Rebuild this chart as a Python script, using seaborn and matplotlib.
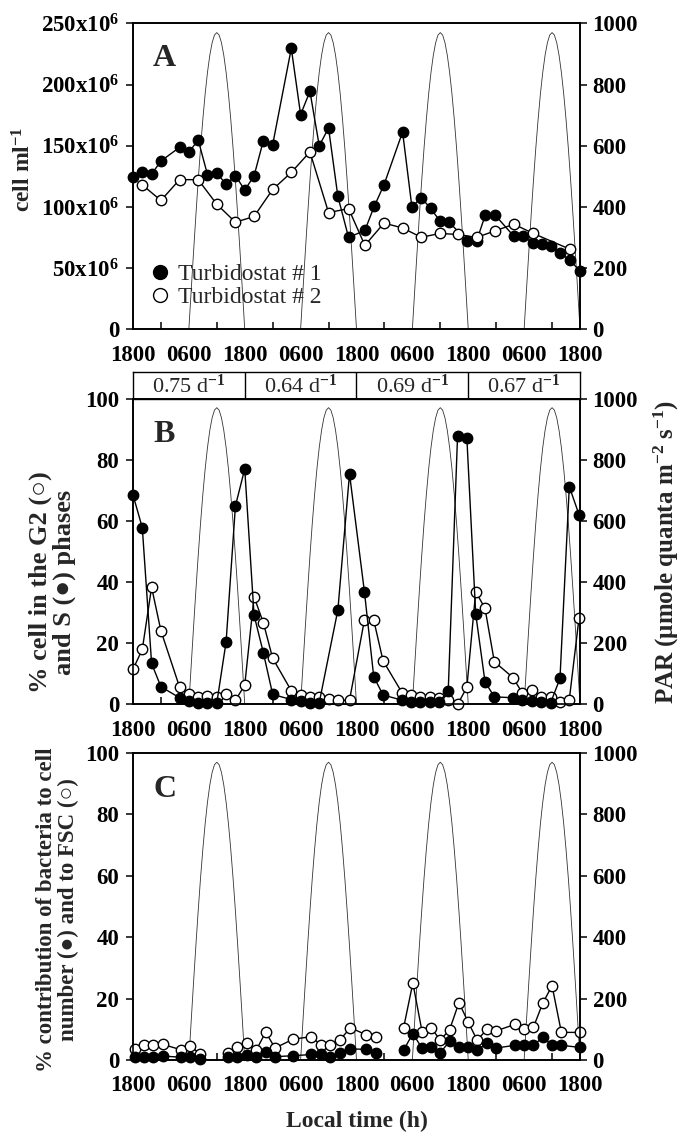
import numpy as np
import matplotlib
matplotlib.use("Agg")
import matplotlib.pyplot as plt
from matplotlib.lines import Line2D
import seaborn as sns

# ---------------- data (hours after 1800 of day 0) ----------------
# Panel A : cell ml-1 (in millions)
a_t1_h = [0, 2, 4, 6, 10, 12, 14, 16, 18, 20, 22, 24, 26, 28, 30, 34, 36, 38, 40, 42, 44,
          46.3, 49.8, 51.8, 53.9, 57.9, 59.9, 61.9, 63.9, 65.9, 67.9, 71.8, 73.8, 75.7, 77.8,
          81.8, 83.8, 85.8, 87.8, 89.8, 91.8, 93.8, 96]
a_t1_v = [124.5, 128.7, 126.8, 137.5, 148.7, 144.6, 154.8, 126.4, 127.7, 118.5, 125.6, 113.8,
          125.3, 154.2, 150.9, 229.6, 175.5, 194.5, 150.0, 164.5, 108.6, 75.1, 80.8, 100.4,
          118.0, 161.3, 99.9, 107.7, 98.8, 88.7, 87.4, 72.4, 72.3, 93.8, 93.2, 76.0, 76.0,
          70.7, 70.1, 68.0, 62.0, 56.5, 47.6]
a_t2_h = [2, 6, 10, 14, 18, 22, 26, 30, 34, 38, 42, 46.3, 49.8, 53.9, 57.9, 61.9, 65.9, 69.8,
          73.8, 77.8, 81.8, 85.8, 93.8]
a_t2_v = [118.0, 105.3, 122.3, 122.3, 102.2, 87.5, 92.2, 114.3, 128.2, 145.0, 95.4, 98.6,
          68.6, 86.8, 82.8, 75.2, 78.3, 77.5, 75.1, 80.5, 85.9, 78.6, 65.5]

# Panel B : % cells in S (filled) and G2 (open)
b_s_h = [0, 2, 4, 6, 10, 12, 14, 16, 18, 20, 22, 24, 26, 28, 30, 34, 36, 38, 40, 44, 46.5,
         49.7, 51.7, 53.7, 57.8, 59.7, 61.7, 63.7, 65.7, 67.7, 69.7, 71.7, 73.6, 75.6, 77.6,
         81.6, 83.6, 85.6, 87.7, 89.7, 91.7, 93.7, 95.8]
b_s_v = [68.5, 57.8, 13.4, 5.8, 2.2, 1.2, 0.6, 0.5, 0.5, 20.5, 64.9, 77.0, 29.2, 16.9, 3.3,
         1.6, 1.0, 0.6, 0.6, 30.9, 75.4, 36.9, 9.1, 3.1, 1.4, 0.9, 0.9, 0.9, 0.8, 4.4, 87.6,
         87.1, 29.6, 7.4, 2.5, 2.2, 1.5, 1.1, 0.8, 0.6, 8.5, 71.2, 62.0]
b_g2_h = [0, 2, 4, 6, 10, 12, 14, 16, 18, 20, 22, 24, 26, 28, 30, 34, 36, 38, 40, 42, 44,
          46.5, 49.7, 51.7, 53.7, 57.8, 59.7, 61.7, 63.7, 65.7, 67.7, 69.7, 71.7, 73.6, 75.6,
          77.6, 81.6, 83.6, 85.6, 87.7, 89.7, 91.7, 93.7, 95.8]
b_g2_v = [11.5, 18.0, 38.3, 24.1, 5.7, 3.3, 2.5, 2.7, 2.5, 3.3, 1.4, 6.3, 35.2, 26.7, 15.1,
          4.5, 3.1, 2.5, 2.5, 1.7, 1.4, 1.4, 27.6, 27.6, 14.3, 3.8, 3.1, 2.5, 2.5, 2.0, 1.6,
          0.0, 5.6, 36.9, 31.4, 14.0, 8.8, 3.8, 4.7, 2.5, 2.3, 0.9, 1.6, 28.4]
growth_rates = ["0.75", "0.64", "0.69", "0.67"]

# Panel C : % contribution of bacteria to cell number (filled) and FSC (open)
c_num_h = [0.4, 2.3, 4.3, 6.4, 10.4, 12.3, 14.3, 20.4, 22.4, 24.4, 26.5, 28.5, 30.5, 34.4,
           38.3, 40.3, 42.3, 44.4, 46.7, 50.1, 52.2, 58.1, 60.1, 62.1, 64.1, 66.0, 68.0, 70.0,
           72.0, 73.9, 76.1, 78.0, 82.0, 84.0, 86.0, 88.0, 90.0, 92.0, 96.0]
c_num_v = [0.9, 1.1, 1.1, 1.3, 0.9, 1.1, 0.3, 0.9, 0.9, 1.6, 1.1, 2.7, 1.1, 1.4, 1.8, 1.8,
           1.1, 2.2, 3.6, 3.5, 2.4, 3.2, 8.6, 3.8, 4.1, 2.4, 6.1, 4.3, 4.3, 3.3, 5.4, 3.9, 4.8,
           4.8, 4.8, 7.4, 4.8, 4.8, 4.1]
c_fsc_h = c_num_h
c_fsc_v = [3.5, 4.9, 4.9, 5.1, 3.3, 4.6, 2.1, 2.2, 4.3, 5.7, 3.3, 9.1, 3.9, 6.8, 7.6, 5.0,
           5.0, 6.5, 10.5, 8.2, 7.6, 10.4, 25.1, 9.1, 10.3, 6.5, 9.9, 18.7, 12.3, 6.5, 10.1,
           9.5, 11.6, 10.1, 10.7, 18.5, 24.2, 9.0, 9.0]

# PAR light curve : one light period sampled every half hour from 0600 to 1800
par_day = [0, 127, 251, 371, 485, 591, 686, 770, 840, 896, 937, 962, 970, 962, 937, 896,
           840, 770, 686, 591, 485, 371, 251, 127, 0]
sunrise_h = [12, 36, 60, 84]

xtick_pos = [0, 12, 24, 36, 48, 60, 72, 84, 96]
xtick_lab = ["1800", "0600", "1800", "0600", "1800", "0600", "1800", "0600", "1800"]

# ---------------- style ----------------
sns.set_theme(style="ticks")
plt.rcParams.update({
    "font.family": ["Liberation Serif", "DejaVu Serif"],
    "font.weight": "bold",
    "axes.labelweight": "bold",
    "mathtext.fontset": "custom",
    "mathtext.rm": "Liberation Serif",
    "mathtext.it": "Liberation Serif:italic",
    "mathtext.bf": "Liberation Serif:bold",
    "axes.linewidth": 1.2,
    "axes.edgecolor": "black",
    "xtick.color": "black",
    "ytick.color": "black",
})

TICK_FS = 16.5
LAB_FS = 16.5

fig = plt.figure(figsize=(6.83, 11.37), dpi=100)
L, W = 0.1947, 0.6545
axA = fig.add_axes([L, 0.7104, W, 0.2690])
axBox = fig.add_axes([L, 0.6495, W, 0.02357])
axB = fig.add_axes([L, 0.3804, W, 0.2691])
axC = fig.add_axes([L, 0.0677, W, 0.2700])

MS = 7.5
filled = dict(color="black", marker="o", markersize=MS, markerfacecolor="black",
              markeredgecolor="black", markeredgewidth=1.0, linewidth=1.0, clip_on=False)
opened = dict(color="black", marker="o", markersize=MS, markerfacecolor="white",
              markeredgecolor="black", markeredgewidth=1.0, linewidth=1.0, clip_on=False)


def draw_series(ax, h, v, style, max_gap=None):
    h = np.asarray(h, float)
    v = np.asarray(v, float)
    if max_gap is None:
        segs = [(0, len(h))]
    else:
        cuts = np.where(np.diff(h) > max_gap)[0] + 1
        bounds = [0] + list(cuts) + [len(h)]
        segs = list(zip(bounds[:-1], bounds[1:]))
    for s, e in segs:
        sns.lineplot(x=h[s:e], y=v[s:e], ax=ax, sort=False, estimator=None,
                     legend=False, **style)


def setup(ax, ymax, yticks, ylabels):
    ax2 = ax.twinx()
    for d0 in sunrise_h:
        xs = d0 + 0.5 * np.arange(len(par_day))
        sns.lineplot(x=xs, y=par_day, ax=ax2, color="#333333", linewidth=0.6,
                     sort=False, estimator=None, legend=False)
    ax2.set_ylim(0, 1000)
    ax2.set_yticks([0, 200, 400, 600, 800, 1000])
    ax2.set_yticklabels(["0", "200", "400", "600", "800", "1000"], fontsize=TICK_FS,
                        fontweight="bold")
    ax2.tick_params(axis="y", direction="out", length=5, width=1.1, pad=4)
    ax2.set_ylabel("")
    ax.set_zorder(ax2.get_zorder() + 1)
    ax.patch.set_visible(False)
    ax.set_xlim(0, 96)
    ax.set_ylim(0, ymax)
    ax.set_yticks(yticks)
    ax.set_yticklabels(ylabels, fontsize=TICK_FS, fontweight="bold")
    ax.tick_params(axis="y", direction="out", length=5, width=1.1, pad=5)
    ax.set_xticks(xtick_pos)
    ax.set_xticklabels(xtick_lab, fontsize=TICK_FS, fontweight="bold")
    ax.set_xticks([6 + 12 * k for k in range(8)], minor=True)
    ax.tick_params(axis="x", which="major", length=0, pad=11)
    ax.tick_params(axis="x", which="minor", direction="in", length=5, width=1.1)
    ax.set_xlabel("")
    for sp in ax2.spines.values():
        sp.set_linewidth(1.2)
    return ax2


# Panel A
setup(axA, 250, [0, 50, 100, 150, 200, 250],
      ["0"] + [r"%dx10$^{\mathbf{6}}$" % v for v in (50, 100, 150, 200, 250)])
draw_series(axA, a_t1_h, a_t1_v, filled)
draw_series(axA, a_t2_h, a_t2_v, opened)
axA.set_ylabel(r"cell ml$^{\mathbf{-1}}$", fontsize=17, fontweight="bold")
axA.yaxis.set_label_coords(-0.218, 0.524)
axA.text(0.045, 0.86, "A", transform=axA.transAxes, fontsize=23, fontweight="bold")
hA = [Line2D([], [], ls="none", marker="o", markersize=10, mfc="black", mec="black"),
      Line2D([], [], ls="none", marker="o", markersize=10, mfc="white", mec="black")]
axA.legend(hA, ["Turbidostat # 1", "Turbidostat # 2"], loc="lower left",
           bbox_to_anchor=(0.04, 0.07), frameon=False, handlelength=0.8,
           handletextpad=0.35, labelspacing=0.05, borderpad=0, borderaxespad=0,
           prop={"family": "Liberation Serif", "weight": "normal", "size": 17})

# Growth-rate box above panel B
axBox.set_xlim(0, 96)
axBox.set_ylim(0, 1)
axBox.set_xticks([])
axBox.set_yticks([])
for sp in axBox.spines.values():
    sp.set_linewidth(1.0)
for k, r in enumerate(growth_rates):
    if k > 0:
        axBox.axvline(24 * k, color="black", linewidth=1.0)
    axBox.text(24 * k + 12, 0.45, r + r" d$^{-1}$", ha="center", va="center",
               fontsize=16, fontweight="normal")

# Panel B
axB2 = setup(axB, 100, [0, 20, 40, 60, 80, 100], ["0", "20", "40", "60", "80", "100"])
draw_series(axB, b_g2_h, b_g2_v, opened)
draw_series(axB, b_s_h, b_s_v, filled)
axB.set_ylabel("% cell in the G2 (\u25CB)\nand S (\u25CF) phases", fontsize=19,
               fontweight="bold", linespacing=1.0)
axB.yaxis.set_label_coords(-0.128, 0.40)
axB2.set_ylabel(r"PAR ($\mathbf{\mu}$mole quanta m$^{\mathbf{-2}}$ s$^{\mathbf{-1}}$)",
                fontsize=18, fontweight="bold")
axB2.yaxis.set_label_coords(1.16, 0.5)
axB.text(0.045, 0.858, "B", transform=axB.transAxes, fontsize=23, fontweight="bold")

# Panel C
setup(axC, 100, [0, 20, 40, 60, 80, 100], ["0", "20", "40", "60", "80", "100"])
draw_series(axC, c_fsc_h, c_fsc_v, opened, max_gap=5)
draw_series(axC, c_num_h, c_num_v, filled, max_gap=5)
axC.set_ylabel("% contribution of bacteria to cell\nnumber (\u25CF) and to FSC (\u25CB)",
               fontsize=16.5, fontweight="bold", linespacing=1.05)
axC.yaxis.set_label_coords(-0.12, 0.49)
axC.text(0.045, 0.858, "C", transform=axC.transAxes, fontsize=23, fontweight="bold")

fig.text(0.522, 0.0135, "Local time (h)", ha="center", va="center", fontsize=17,
         fontweight="bold")

fig.savefig("out.png", dpi=100)
